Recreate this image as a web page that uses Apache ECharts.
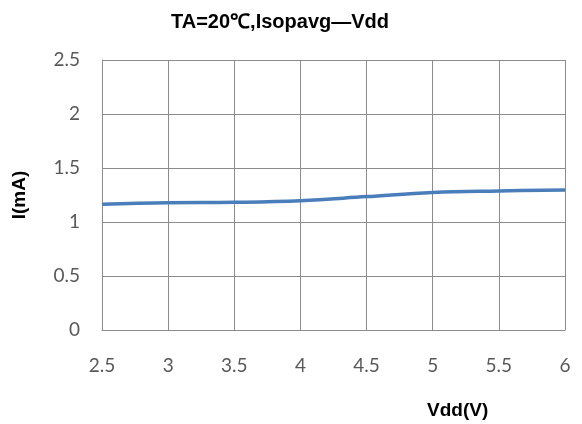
<!DOCTYPE html>
<html>
<head>
<meta charset="utf-8">
<script src="https://cdn.jsdelivr.net/npm/echarts@6/dist/echarts.min.js"></script>
<style>html,body{margin:0;padding:0;background:#fff}#c{width:582px;height:424px}</style>
</head>
<body>
<div id="c"></div>
<script>
const vdd = [2.5, 3, 3.5, 4, 4.5, 5, 5.5, 6];
const current = [1.164, 1.178, 1.182, 1.197, 1.235, 1.274, 1.288, 1.296];
const titleText = 'TA=20℃,Isopavg—Vdd';
const xName = 'Vdd(V)';
const yName = 'I(mA)';

const chart = echarts.init(document.getElementById('c'), null, {renderer: 'canvas'});
const labelStyle = {color: '#595959', fontSize: 19, fontFamily: 'Lato, "Open Sans", sans-serif'};
chart.setOption({
  animation: false,
  backgroundColor: '#fff',
  title: {
    text: titleText, left: 275, top: 7, textAlign: 'center',
    textStyle: {fontFamily: '"Liberation Sans", Arial, sans-serif', fontWeight: 'bold', fontSize: 20, color: '#000'}
  },
  grid: {left: 102, right: 17, top: 60, bottom: 94},
  xAxis: {
    type: 'value', min: 2.5, max: 6, interval: 0.5,
    axisLine: {lineStyle: {color: '#8c8c8c', width: 1}},
    axisTick: {show: false},
    axisLabel: Object.assign({margin: 26, formatter: v => String(v)}, labelStyle),
    splitLine: {show: true, lineStyle: {color: '#8c8c8c', width: 1}}
  },
  yAxis: {
    type: 'value', min: 0, max: 2.5, interval: 0.5,
    name: yName, nameLocation: 'middle', nameGap: 73, nameRotate: 90,
    nameTextStyle: {fontFamily: '"Liberation Sans", Arial, sans-serif', fontWeight: 'bold', fontSize: 19, color: '#000'},
    axisLine: {show: true, lineStyle: {color: '#8c8c8c', width: 1}},
    axisTick: {show: false},
    axisLabel: Object.assign({margin: 22, formatter: v => String(v)}, labelStyle),
    splitLine: {show: true, lineStyle: {color: '#8c8c8c', width: 1}}
  },
  graphic: [{
    type: 'text', left: 427, top: 401,
    style: {text: xName, font: 'bold 19px "Liberation Sans", Arial, sans-serif', fill: '#000'}
  }],
  series: [{
    type: 'line', data: vdd.map((x, i) => [x, current[i]]),
    smooth: 0.4, showSymbol: false,
    lineStyle: {color: '#4a7ebb', width: 3.5}
  }]
});
</script>
</body>
</html>
